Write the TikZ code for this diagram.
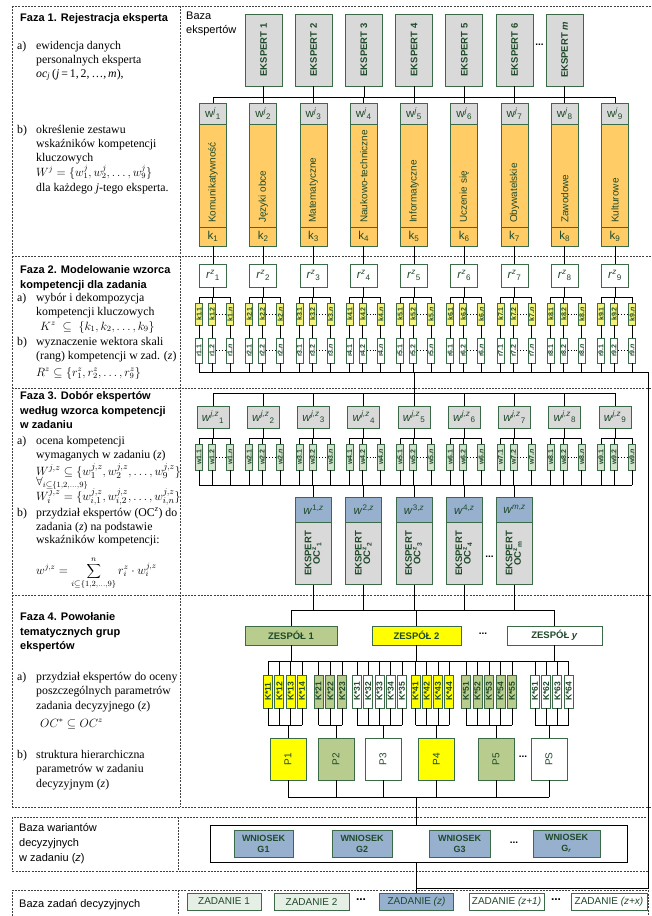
\documentclass[tikz,border=0pt]{standalone}
\usepackage{fontspec}
\usepackage{graphicx}
\setmainfont{Liberation Serif}
\setsansfont{Liberation Sans}
\definecolor{bord}{HTML}{3B6A46}
\definecolor{txtg}{HTML}{1F4A2A}
\definecolor{greyf}{HTML}{D9D9D9}
\definecolor{orangef}{HTML}{FFCC66}
\definecolor{yelf}{HTML}{FFFF00}
\definecolor{lyel}{HTML}{F2F27C}
\definecolor{oliv}{HTML}{B8CC8E}
\definecolor{bluef}{HTML}{96B0CE}
\definecolor{lgreen}{HTML}{D3E2CD}
\definecolor{zgreen}{HTML}{E6EFE6}
\begin{document}
\begin{tikzpicture}[x=1pt,y=-1pt,
  box/.style={draw=bord,line width=0.9pt,inner sep=0pt,text=txtg,font=\sffamily},
  conn/.style={draw=black,line width=0.75pt},
  frm/.style={draw=black!75,line width=0.6pt,dash pattern=on 2pt off 1.2pt},
  lt/.style={anchor=base west,inner sep=0pt,font=\fontsize{11.8}{14}\selectfont},
  fm/.style={anchor=base west,inner sep=0pt,font=\fontsize{12}{14}\selectfont},
  fmb/.style={anchor=base west,inner sep=0pt,font=\fontsize{13.2}{14}\selectfont},
  hd/.style={anchor=base west,inner sep=0pt,font=\sffamily\bfseries\fontsize{11}{13}\selectfont},
  st/.style={anchor=base west,inner sep=0pt,font=\sffamily\fontsize{11}{13}\selectfont},
  dts/.style={inner sep=0pt,font=\sffamily\bfseries\fontsize{10}{10}\selectfont},
  tny/.style={font=\sffamily\bfseries\fontsize{7}{7}\selectfont},
]
\useasboundingbox (0,0) rectangle (652,916);
\fill[white] (0,0) rectangle (652,916);

% ---------- frames
\draw[frm] (12,6) -- (652,6);
\draw[frm] (12,256) -- (652,256);
\draw[frm] (12,388) -- (652,388);
\draw[frm] (12,595) -- (652,595);
\draw[frm] (12,807) -- (652,807);
\draw[frm] (12,6) -- (12,807);
\draw[frm] (180,6) -- (180,807);
\draw[frm] (12,817) rectangle (648,871);
\draw[frm] (178,817) -- (178,871);
\draw[frm] (12,916) -- (12,890) -- (648,890) -- (648,916);
\draw[frm] (178,890) -- (178,916);

% ---------- left column texts
\node[hd] (f1) at (20,21) {Faza 1. Rejestracja eksperta};
\node[lt] (f1a) at (17,49) {a)};
\node[lt] (f1a1) at (36,49) {ewidencja danych};
\node[lt] (f1a2) at (36,63) {personalnych eksperta};
\node[lt] (f1a3) at (36,77) {\textit{oc}\textsubscript{\textit{j}}\,(\textit{j}\,=\,1,\,2,\,…,\,\textit{m}),};
\node[lt] (f1b) at (17,133) {b)};
\node[lt] (f1b1) at (36,133) {określenie zestawu};
\node[lt] (f1b2) at (36,147) {wskaźników kompetencji};
\node[lt] (f1b3) at (36,161) {kluczowych};
\node[fm] (f1b4) at (36,176) {$W^{j}=\{w_1^{j},w_2^{j},\dots,w_9^{j}\}$};
\node[lt] (f1b5) at (36,191) {dla każdego \textit{j}-tego eksperta.};

\node[hd] (f2) at (20,273) {Faza 2. Modelowanie wzorca};
\node[hd] (f2x) at (20,288) {kompetencji dla zadania};
\node[lt] (f2a) at (17,301) {a)};
\node[lt] (f2a1) at (36,301) {wybór i dekompozycja};
\node[lt] (f2a2) at (36,315) {kompetencji kluczowych};
\node[fm] (f2a3) at (40,330) {$K^{z}\;\subseteq\;\{k_1,k_2,\dots,k_9\}$};
\node[lt] (f2b) at (17,345) {b)};
\node[lt] (f2b1) at (36,345) {wyznaczenie wektora skali};
\node[lt] (f2b2) at (36,359) {(rang) kompetencji w zad. (\textit{z})};
\node[fm] (f2b3) at (36,376) {$R^{z}\subseteq\{r_1^{z},r_2^{z},\dots,r_9^{z}\}$};

\node[hd] (f3) at (20,399) {Faza 3. Dobór ekspertów};
\node[hd] (f3x) at (20,414) {według wzorca kompetencji};
\node[hd] (f3y) at (20,428) {w zadaniu};
\node[lt] (f3a) at (17,444) {a)};
\node[lt] (f3a1) at (36,444) {ocena kompetencji};
\node[lt] (f3a2) at (36,458) {wymaganych w zadaniu (\textit{z})};
\node[fmb] (f3a3) at (36,475) {$W^{j,z}\subseteq\{w_1^{j,z},w_2^{j,z},\dots,w_9^{j,z}\}$};
\node[lt] (f3a4) at (36,485.5) {$\forall_{i\subseteq\{1,2,\dots,9\}}$};
\node[fmb] (f3a5) at (36,500) {$W_i^{j,z}=\{w_{i,1}^{j,z},w_{i,2}^{j,z},\dots,w_{i,n}^{j,z}\}$};
\node[lt] (f3b) at (17,516) {b)};
\node[lt] (f3b1) at (36,516) {przydział ekspertów (OC\textsuperscript{\textit{z}}) do};
\node[lt] (f3b2) at (36,530) {zadania (\textit{z}) na podstawie};
\node[lt] (f3b3) at (36,543) {wskaźników kompetencji:};
\node[lt] (f3b4) at (36,574) {$w^{j,z}=\displaystyle\sum_{i\subseteq\{1,2,\dots,9\}}^{n} r_i^{z}\cdot w_i^{j,z}$};

\node[hd] (f4) at (20,620) {Faza 4. Powołanie};
\node[hd] (f4x) at (20,635) {tematycznych grup};
\node[hd] (f4y) at (20,649) {ekspertów};
\node[lt] (f4a) at (17,680) {a)};
\node[lt] (f4a1) at (36,680) {przydział ekspertów do oceny};
\node[lt] (f4a2) at (36,694) {poszczególnych parametrów};
\node[lt] (f4a3) at (36,709) {zadania decyzyjnego (\textit{z})};
\node[fm] (f4a4) at (40,727) {$OC^{*}\subseteq OC^{z}$};
\node[lt] (f4b) at (17,758) {b)};
\node[lt] (f4b1) at (36,758) {struktura hierarchiczna};
\node[lt] (f4b2) at (36,772) {parametrów w zadaniu};
\node[lt] (f4b3) at (36,787) {decyzyjnym (\textit{z})};

\node[st] (bw1) at (19,831) {Baza wariantów};
\node[st] (bw2) at (19,846) {decyzyjnych};
\node[st] (bw3) at (19,861) {w zadaniu (\textit{z})};
\node[st] (bzd) at (19,907) {Baza zadań decyzyjnych};

% ---------- Faza 1 right
\node[st] (bz1) at (186,19) {Baza};
\node[st] (bz2) at (186,33) {ekspertów};
\foreach \i/\lab in {1/1,2/2,3/3,4/4,5/5,6/6,7/\textit{m}}{
  \pgfmathsetmacro\cx{263.5+50.2*(\i-1)}
  \node[box,fill=greyf,minimum width=37pt,minimum height=72pt,font=\sffamily\bfseries\fontsize{9.5}{10}\selectfont] (e\i) at (\cx,50) {\rotatebox{90}{EKSPERT \lab}};
}
\node[dts] (edots) at (539.5,45) {...};
\coordinate (b1L) at (213,97);
\coordinate (b1R) at (615,97);
\draw[conn] (b1L) -- (b1R);
\foreach \i in {1,...,7}{\draw[conn] (e\i.south) -- (e\i.south |- b1L);}

\coordinate (f2bus) at (199,372);
\coordinate (f2busR) at (648,372);
\coordinate (f3top) at (213,393);
\coordinate (f3topR) at (615,393);
\coordinate (f3bot) at (199,485);
\coordinate (f3botR) at (632,485);

\foreach \i/\nm in {1/Komunikatywność,2/Języki obce,3/Matematyczne,4/Naukowo-techniczne,5/Informatyczne,6/Uczenie się,7/Obywatelskie,8/Zawodowe,9/Kulturowe}{
  \pgfmathsetmacro\cx{213+50.25*(\i-1)}
  \node[box,fill=greyf,minimum width=27pt,minimum height=21pt,font=\sffamily\fontsize{11.5}{12}\selectfont] (w\i) at (\cx,113.5) {w\textsuperscript{\itshape j}\textsubscript{\i}};
  \node[box,fill=orangef,minimum width=27pt,minimum height=103pt] (c\i) at (\cx,175.5) {};
  \node[anchor=south,inner sep=0pt,text=txtg,font=\sffamily\fontsize{10}{11}\selectfont] (cn\i) at (\cx,223) {\rotatebox{90}{\nm}};
  \node[box,fill=orangef,minimum width=27pt,minimum height=19pt,font=\sffamily\fontsize{11.5}{12}\selectfont] (k\i) at (\cx,236.5) {k\textsubscript{\i}};
  \draw[conn] (w\i.north) -- (w\i.north |- b1L);
  % Faza 2
  \node[box,fill=white,minimum width=27pt,minimum height=23pt,font=\sffamily\fontsize{11.5}{12}\selectfont] (r\i) at (\cx,275.5) {\textit{r}\textsuperscript{\itshape z}\textsubscript{\i}};
  \draw[conn] (k\i) -- (r\i);
  \node[box,fill=lyel,minimum width=7pt,minimum height=22pt,tny] (ka\i) at (\cx-14,314) {\rotatebox{90}{k\i.1}};
  \node[box,fill=lyel,minimum width=7pt,minimum height=22pt,tny] (kb\i) at (\cx-1,314) {\rotatebox{90}{k\i.2}};
  \node[box,fill=lyel,minimum width=7pt,minimum height=22pt,tny] (kc\i) at (\cx+17,314) {\rotatebox{90}{k\i.\textit{n}}};
  \node[box,fill=white,minimum width=7pt,minimum height=25pt,tny] (ra\i) at (\cx-14,350.5) {\rotatebox{90}{r\i.1}};
  \node[box,fill=white,minimum width=7pt,minimum height=25pt,tny] (rb\i) at (\cx-1,350.5) {\rotatebox{90}{r\i.2}};
  \node[box,fill=white,minimum width=7pt,minimum height=25pt,tny] (rc\i) at (\cx+17,350.5) {\rotatebox{90}{r\i.\textit{n}}};
  \coordinate (rbus\i) at (\cx,297);
  \draw[conn] (r\i.south) -- (rbus\i);
  \draw[conn] (ka\i.north |- rbus\i) -- (kc\i.north |- rbus\i);
  \foreach \s in {a,b,c}{
    \draw[conn] (k\s\i.north) -- (k\s\i.north |- rbus\i);
    \draw[conn] (k\s\i) -- (r\s\i);
    \draw[conn] (r\s\i.south) -- (r\s\i.south |- f2bus);
  }
  \draw[dotted,line width=0.9pt] (kb\i.east) -- (kc\i.west);
  \draw[dotted,line width=0.9pt] (rb\i.east) -- (rc\i.west);
  % Faza 3
  \node[box,fill=greyf,minimum width=32pt,minimum height=22pt,font=\sffamily\fontsize{11.5}{12}\selectfont] (wz\i) at (\cx,417) {\textit{w}\textsuperscript{\itshape j,z}\textsubscript{\i}};
  \draw[conn] (wz\i.north) -- (wz\i.north |- f3top);
  \coordinate (wbus\i) at (\cx,438);
  \draw[conn] (wz\i.south) -- (wbus\i);
  \node[box,fill=lgreen,minimum width=7pt,minimum height=26pt,tny] (wa\i) at (\cx-14,457) {\rotatebox{90}{w\i.1}};
  \node[box,fill=lgreen,minimum width=7pt,minimum height=26pt,tny] (wb\i) at (\cx-1,457) {\rotatebox{90}{w\i.2}};
  \node[box,fill=lgreen,minimum width=7pt,minimum height=26pt,tny] (wc\i) at (\cx+17,457) {\rotatebox{90}{w\i.\textit{n}}};
  \draw[conn] (wa\i.north |- wbus\i) -- (wc\i.north |- wbus\i);
  \foreach \s in {a,b,c}{
    \draw[conn] (w\s\i.north) -- (w\s\i.north |- wbus\i);
    \draw[conn] (w\s\i.south) -- (w\s\i.south |- f3bot);
  }
  \draw[dotted,line width=0.9pt] (wb\i.east) -- (wc\i.west);
}
\draw[conn] (f2bus) -- (f2busR);
\draw[conn] (f3top) -- (f3topR);
\draw[conn] (r5 |- f2bus) -- (r5 |- f3top);
\draw[conn] (f3bot) -- (f3botR);

% ---------- OC experts
\coordinate (f4bus) at (291,610);
\coordinate (f4busR) at (555,610);
\foreach \j/\sup/\sub [count=\n] in {3/1/1,4/2/2,5/3/3,6/4/4,7/\textit{m}/m}{
  \pgfmathsetmacro\cx{213+50.25*(\j-1)}
  \node[box,fill=bluef,minimum width=36pt,minimum height=25pt,font=\sffamily\fontsize{11.5}{12}\selectfont] (oh\n) at (\cx,509.5) {\textit{w}\textsuperscript{\sup,\textit{z}}};
  \node[box,fill=greyf,minimum width=36pt,minimum height=62pt,font=\sffamily\bfseries\fontsize{9.5}{10.5}\selectfont] (ob\n) at (\cx,553.5) {\rotatebox{90}{\begin{tabular}{@{}c@{}}EKSPERT\\[-2pt]OC\textsuperscript{z}\textsubscript{\sub}\end{tabular}}};
  \draw[conn] (oh\n.north) -- (oh\n.north |- f3bot);
  \draw[conn] (ob\n.south) -- (ob\n.south |- f4bus);
}
\node[dts] (odots) at (489.5,557) {...};

% ---------- Faza 4
\draw[conn] (f4bus) -- (f4busR);
\node[box,fill=oliv,minimum width=92pt,minimum height=19pt,font=\sffamily\bfseries\fontsize{9.5}{10}\selectfont] (zs1) at (291,635.5) {ZESPÓŁ 1};
\node[box,fill=yelf,minimum width=89pt,minimum height=19pt,font=\sffamily\bfseries\fontsize{9.5}{10}\selectfont] (zs2) at (416.5,635.5) {ZESPÓŁ 2};
\node[box,fill=white,minimum width=95pt,minimum height=19pt,font=\sffamily\bfseries\fontsize{9.5}{10}\selectfont] (zs3) at (554.5,635.5) {ZESPÓŁ \textit{y}};
\node[dts] (zdots) at (483,634) {...};
\coordinate (kbus) at (268,661);
\coordinate (kbusR) at (569,661);
\coordinate (gb) at (0,725);
\coordinate (pb) at (0,797);
\draw[conn] (kbus) -- (kbusR);
\foreach \z in {1,2,3}{
  \draw[conn] (zs\z.north) -- (zs\z.north |- f4bus);
  \draw[conn] (zs\z.south) -- (zs\z.south |- kbus);
}
\foreach \g/\x/\s/\n/\f/\px in {1/268/11.3/4/yelf/288, 2/318.5/11.8/3/oliv/336, 3/357/11.25/5/white/383, 4/415.5/11.2/4/yelf/436.5, 5/466/11.5/5/oliv/496, 6/535/11.2/4/white/549}{
  \foreach \k in {1,...,\n}{
    \pgfmathsetmacro\kx{\x+\s*(\k-1)}
    \node[box,fill=\f,minimum width=9pt,minimum height=33pt,font=\sffamily\bfseries\fontsize{8.5}{8.5}\selectfont] (K\g\k) at (\kx,691.5) {\rotatebox{90}{K*\g\k}};
    \draw[conn] (K\g\k.north) -- (K\g\k.north |- kbus);
    \draw[conn] (K\g\k.south) -- (K\g\k.south |- gb);
  }
  \draw[conn] (K\g1.south |- gb) -- (K\g\n.south |- gb);
  \node[box,fill=\f,minimum width=36pt,minimum height=42pt,font=\sffamily\fontsize{10}{10}\selectfont] (P\g) at (\px,759) {\rotatebox{90}{\ifnum\g=6 PS\else P\g\fi}};
  \draw[conn] (P\g.north) -- (P\g.north |- gb);
  \draw[conn] (P\g.south) -- (P\g.south |- pb);
}
\node[dts] (pdots) at (523,757) {...};
\draw[conn] (P1.south |- pb) -- (P6.south |- pb);
\coordinate (vx) at (416.5,797);

% ---------- bottom
\node[draw=black,line width=0.9pt,minimum width=417pt,minimum height=37pt,inner sep=0pt] (cont) at (418.5,843.5) {};
\draw[conn] (vx) -- (vx |- cont.north);
\foreach \n/\x/\w/\g in {1/263.5/59/G1,2/362/60/G2,3/459.5/61/G3,4/566.5/67/G\textsubscript{\textit{r}}}{
  \node[box,fill=bluef,minimum width=\w pt,minimum height=27pt,align=center,font=\sffamily\bfseries\fontsize{9}{11}\selectfont] (wn\n) at (\x,843.5) {WNIOSEK\\\g};
}
\node[dts] (wdots) at (514,843) {...};

\node[box,fill=zgreen,minimum width=74pt,minimum height=17pt,font=\sffamily\fontsize{10}{10}\selectfont] (za1) at (224,901.5) {ZADANIE 1};
\node[box,fill=zgreen,minimum width=75pt,minimum height=17pt,font=\sffamily\fontsize{10}{10}\selectfont] (za2) at (311.5,901.5) {ZADANIE 2};
\node[box,fill=bluef,minimum width=74pt,minimum height=17pt,font=\sffamily\fontsize{10}{10}\selectfont] (zz) at (416.5,901.5) {ZADANIE \textit{(z)}};
\node[box,fill=white,minimum width=75pt,minimum height=17pt,font=\sffamily\fontsize{10}{10}\selectfont] (za4) at (506.5,901.5) {ZADANIE \textit{(z+1)}};
\node[box,fill=white,minimum width=76pt,minimum height=17pt,font=\sffamily\fontsize{10}{10}\selectfont] (za5) at (609,901.5) {ZADANIE \textit{(z+x)}};
\node[dts,font=\sffamily\bfseries\fontsize{12}{12}\selectfont] (zd1) at (361,900) {...};
\node[dts,font=\sffamily\bfseries\fontsize{12}{12}\selectfont] (zd2) at (556,900) {...};
\coordinate (rtb) at (648,888);
\draw[conn] (vx |- cont.south) -- (zz.north);
\draw[conn] (f2busR) -- (rtb) -- (rtb -| zz.north);
\end{tikzpicture}
\end{document}
